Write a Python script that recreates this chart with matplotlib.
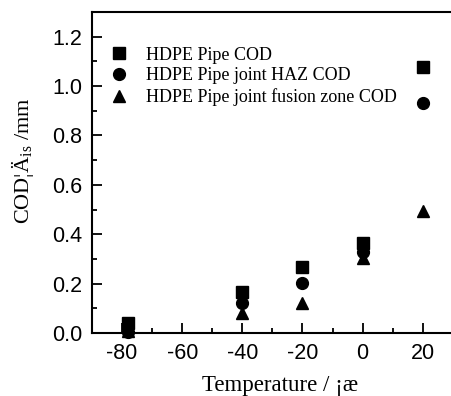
import numpy as np
import matplotlib
matplotlib.use('Agg')
import matplotlib.pyplot as plt
from matplotlib.ticker import MultipleLocator

plt.rcParams['mathtext.default'] = 'regular'
plt.rcParams['axes.unicode_minus'] = False

"Data read from the figure"
temperature = [-78, -40, -20, 0, 20]
cod_pipe = [0.04, 0.168, 0.269, 0.363, 1.076]
cod_haz = [0.005, 0.121, 0.204, 0.329, 0.932]
cod_fusion = [0.01, 0.083, 0.121, 0.303, 0.494]

labels = ['HDPE Pipe COD', 'HDPE Pipe joint HAZ COD', 'HDPE Pipe joint fusion zone COD']

serif = 'Liberation Serif'
sans = 'Liberation Sans'

fig = plt.figure(figsize=[4.51, 3.96], dpi=100)
ax = fig.add_axes([0.204, 0.159, 0.80, 0.811])

ax.plot(temperature, cod_pipe, 's', color='black', ms=8, label=labels[0], clip_on=False)
ax.plot(temperature, cod_haz, 'o', color='black', ms=8.5, label=labels[1], clip_on=False)
ax.plot(temperature, cod_fusion, '^', color='black', ms=9, label=labels[2], clip_on=False)

ax.set_xlim(-90, 30)
ax.set_ylim(0, 1.3)
ax.xaxis.set_minor_locator(MultipleLocator(10))
ax.yaxis.set_minor_locator(MultipleLocator(0.1))
ax.set_xticks([-80, -60, -40, -20, 0, 20])
ax.set_yticks([0.0, 0.2, 0.4, 0.6, 0.8, 1.0, 1.2])
ax.yaxis.set_major_formatter(matplotlib.ticker.FormatStrFormatter('%.1f'))

ax.tick_params(which='major', direction='in', length=7, width=1.3, labelsize=15.5, pad=7)
ax.tick_params(which='minor', direction='in', length=3.5, width=1.3)
ax.tick_params(axis='both', which='both', top=False, right=False)
for lab in ax.get_xticklabels() + ax.get_yticklabels():
    lab.set_family(sans)
for sp in ax.spines.values():
    sp.set_linewidth(1.5)
# right edge is cut off in the original
ax.spines['right'].set_visible(False)

ax.set_xlabel('Temperature / ¡æ', family=serif, fontsize=16.5)
ax.set_ylabel('COD¦Ä$_{is}$ /mm', family=serif, fontsize=16)
ax.xaxis.set_label_coords(0.52, -0.13)
ax.yaxis.set_label_coords(-0.155, 0.535)

ax.legend(loc='upper left', frameon=False, prop={'family': serif, 'size': 13},
          bbox_to_anchor=(0.02, 0.925), handletextpad=1.0, labelspacing=0.2,
          handlelength=1.0, borderaxespad=0.2)

fig.savefig('out.png', dpi=100)
